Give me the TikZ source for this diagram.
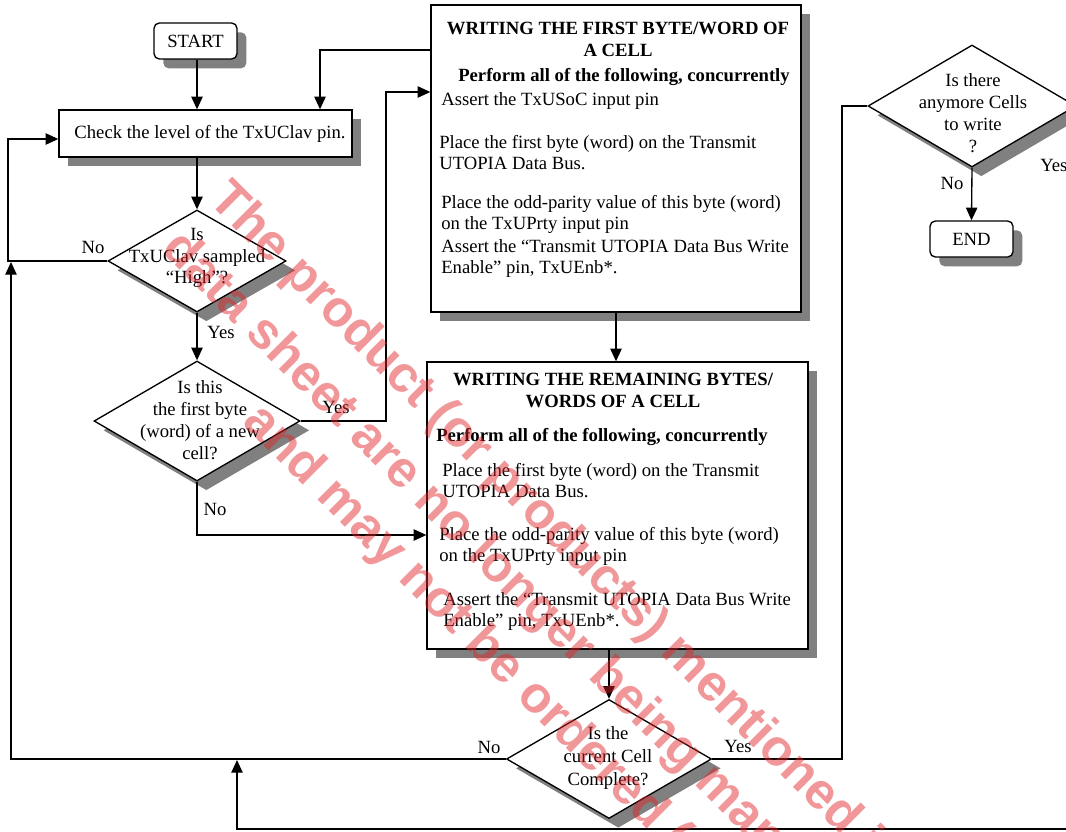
\documentclass[tikz,border=0pt]{standalone}
\usepackage{fontspec}
\setmainfont{Liberation Serif}
\newfontfamily\wmfont{Liberation Sans}
\usetikzlibrary{shapes.geometric,shadows,arrows.meta}
\definecolor{shadowgray}{RGB}{128,128,128}
\definecolor{wmred}{RGB}{225,35,40}
\begin{document}
\begin{tikzpicture}[x=0.75pt,y=-0.75pt,
  every node/.style={font=\fontsize{14}{16.5}\selectfont, inner sep=0pt},
  sz/.style 2 args={minimum width=#1*0.75pt, minimum height=#2*0.75pt},
  shad/.style={drop shadow={shadow xshift=7pt,shadow yshift=-7pt,fill=shadowgray,opacity=1}},
  box/.style={rectangle, draw, line width=1pt, fill=white, shad},
  term/.style={rectangle, rounded corners=4pt, draw, line width=1pt, fill=white, shad},
  dia/.style={diamond, draw, line width=1pt, fill=white, shad},
  ln/.style={line width=1pt},
  arr/.style={line width=1pt, -{Triangle[length=9.5pt,width=8.5pt]}},
  bold/.style={font=\fontsize{14}{16.5}\selectfont\bfseries},
  para/.style={align=left, anchor=west, font=\fontsize{14}{15.75}\selectfont},
  lbl/.style={},
  wm/.style={anchor=base west, rotate=-45, text=wmred, text opacity=0.47,
    font=\wmfont\bfseries\fontsize{38.25}{40}\selectfont}
]
\useasboundingbox (0,0) rectangle (1066,831);

\coordinate (fbin) at (431,50);
\coordinate (btmR) at (1075,829);

% nodes
\node[term, sz={83}{36}] (start) at (195.5,41) {START};
\node[box, sz={293}{47}] (check) at (205.5,133.5) {};
\node (checkt) at (210,133.5) {Check the level of the TxUClav pin.};
\node[dia, sz={178}{102}] (d1) at (197,261) {};
\node[dia, sz={206}{120}] (d2) at (197,421) {};
\node[box, sz={370}{307}] (fb) at (616,158.5) {};
\node[box, sz={381}{287}] (rb) at (617.5,505.5) {};
\node[dia, sz={205}{119}] (d3) at (609,759) {};
\node[dia, sz={208}{122}] (d4) at (972,106) {};
\node[term, sz={83}{36}] (endn) at (971.5,239) {END};

% texts in diamonds
\node[align=center, font=\fontsize{14}{16}\selectfont] (d1t) at (197,258) {Is\\TxUClav sampled\\“High”?};
\node[align=center] (d2t) at (200,420) {Is this\\the first byte\\(word) of a new\\cell?};
\node[align=center, font=\fontsize{14}{17}\selectfont] (d3t) at (608,758) {Is the\\current Cell\\Complete?};
\node[align=center] (d4t) at (973,113.5) {Is there\\anymore Cells\\to write\\?};

% texts in first byte box
\node[bold, align=center] (fbt) at (618,39) {WRITING THE FIRST BYTE/WORD OF\\A CELL};
\node[bold, anchor=west] (fbp) at (458,77) {Perform all of the following, concurrently};
\node[para] (fb1) at (441,101) {Assert the TxUSoC input pin};
\node[para] (fb2) at (439,153) {Place the first byte (word) on the Transmit\\UTOPIA Data Bus.};
\node[para] (fb3) at (441,214.5) {Place the odd-parity value of this byte (word)\\on the TxUPrty input pin};
\node[para] (fb4) at (441,259) {Assert the “Transmit UTOPIA Data Bus Write\\Enable” pin, TxUEnb*.};

% texts in remaining box
\node[bold, align=center] (rbt) at (613,390) {WRITING THE REMAINING BYTES/\\WORDS OF A CELL};
\node[bold, anchor=west] (rbp) at (436,437) {Perform all of the following, concurrently};
\node[para] (rb1) at (442,481) {Place the first byte (word) on the Transmit\\UTOPIA Data Bus.};
\node[para] (rb2) at (439,546.5) {Place the odd-parity value of this byte (word)\\on the TxUPrty input pin};
\node[para] (rb3) at (443,612) {Assert the “Transmit UTOPIA Data Bus Write\\Enable” pin, TxUEnb*.};

% connectors
\draw[arr] (start.south -| d1.north) -- (check.north -| d1.north);
\draw[arr] (check.south -| d1.north) -- (d1.north);
\draw[arr] (d1.west) -- (8,261) -- (8,139) -- (check.west |- 0,139);
\draw[arr] (d1.south) -- (d2.north);
\draw[arr] (d2.east) -- (386,421) -- (386,92) -- (fb.west |- 0,92);
\draw[arr] (d2.south) -- (197,535) -- (rb.west |- 0,535);
\draw[arr] (fbin) -- (320,50) -- (check.north -| 320,0);
\draw[arr] (fb.south) -- (fb.south |- rb.north);
\draw[arr] (rb.south -| d3.north) -- (d3.north);
\draw[arr] (d3.west) -- (11,759) -- (11,262);
\draw[arr] (btmR) -- (237,829) -- (237,760);
\draw[ln] (d3.east) -- (842,759) -- (842,106) -- (d4.west);
\draw[arr] (d4.south) -- (endn.north);

% labels
\node[lbl] (lno1) at (93,247) {No};
\node[lbl] (lyes1) at (221,332) {Yes};
\node[lbl] (lyes2) at (336,407) {Yes};
\node[lbl] (lno2) at (215,509) {No};
\node[lbl] (lno3) at (489,747) {No};
\node[lbl] (lyes3) at (738,746) {Yes};
\node[lbl] (lno4) at (952,183) {No};
\node[lbl, anchor=west] (lyes4) at (1040,165) {Yes};

% watermark
\begin{scope}
\clip (0,0) rectangle (1066,831);
\node[wm] (wm1) at (207,201) {The product (or products) mentioned in};
\node[wm] (wm2) at (160,250) {data sheet are no longer being manu};
\node[wm] (wm3) at (241,423) {and may not be ordered (};
\end{scope}
\end{tikzpicture}
\end{document}
